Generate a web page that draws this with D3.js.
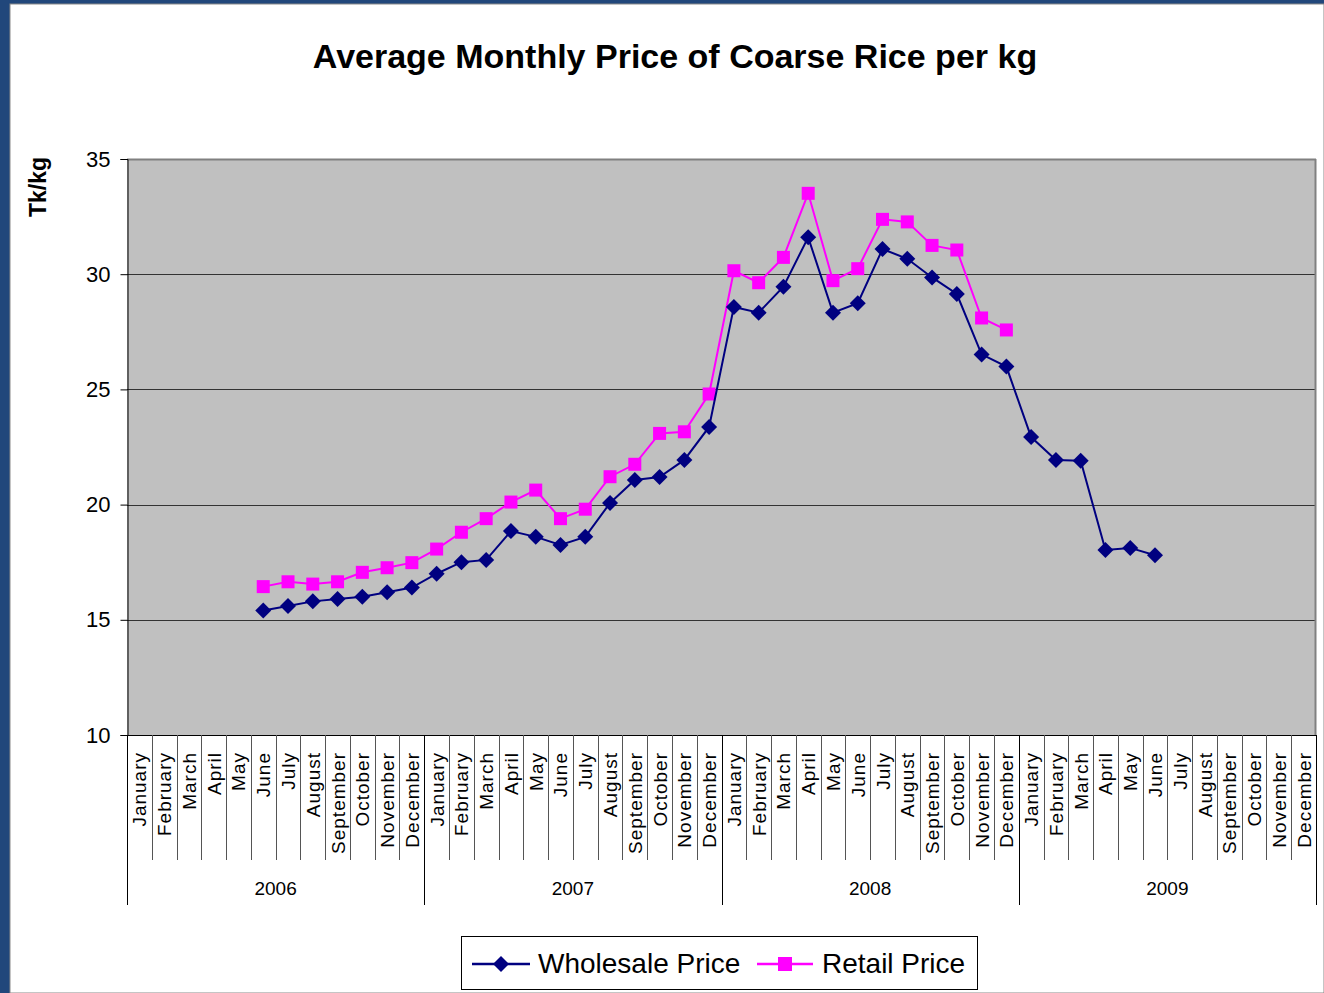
<!DOCTYPE html>
<html>
<head>
<meta charset="utf-8">
<title>Average Monthly Price of Coarse Rice per kg</title>
<script src="https://d3js.org/d3.v7.min.js"></script>
<style>
  body { margin: 0; background: #fff; }
  text { font-family: "Liberation Sans", Arial, sans-serif; }
</style>
</head>
<body>
<script>
// ---- data ----
var years = ["2006", "2007", "2008", "2009"];
var months = ["January", "February", "March", "April", "May", "June", "July",
              "August", "September", "October", "November", "December"];
// one value per month Jan 2006 .. Dec 2009, null where there is no value
var wholesale = [
  null, null, null, null, null, 15.4, 15.6, 15.8, 15.9, 16.0, 16.2, 16.4,
  17.0, 17.5, 17.6, 18.85, 18.6, 18.25, 18.6, 20.07, 21.07, 21.2, 21.94, 23.37,
  28.58, 28.33, 29.46, 31.6, 28.33, 28.74, 31.09, 30.67, 29.86, 29.14, 26.52, 25.99,
  22.93, 21.94, 21.9, 18.03, 18.12, 17.8, null, null, null, null, null, null
];
var retail = [
  null, null, null, null, null, 16.44, 16.65, 16.55, 16.65, 17.06, 17.26, 17.48,
  18.07, 18.8, 19.39, 20.11, 20.63, 19.39, 19.8, 21.21, 21.75, 23.09, 23.16, 24.8,
  30.15, 29.63, 30.73, 33.51, 29.72, 30.24, 32.38, 32.27, 31.25, 31.05, 28.1, 27.58,
  null, null, null, null, null, null, null, null, null, null, null, null
];
var yTicks = [10, 15, 20, 25, 30, 35];

var W = 1324, H = 993;
var pLeft = 127, pRight = 1316, pTop = 159, pBottom = 735;

var svg = d3.select("body").append("svg").attr("width", W).attr("height", H);

// frame
svg.append("rect").attr("x", 0).attr("y", 0).attr("width", W).attr("height", H).attr("fill", "#21477b");
svg.append("rect").attr("x", 10).attr("y", 4).attr("width", W - 10).attr("height", H - 4)
  .attr("fill", "#fff").attr("stroke", "#8a8a8a").attr("stroke-width", 1);

var cats = [];
years.forEach(function(yr) { months.forEach(function(m) { cats.push(yr + "-" + m); }); });

var x = d3.scaleBand().domain(cats).range([pLeft, pRight]);
var y = d3.scaleLinear().domain([10, 35]).range([pBottom, pTop]);

// plot area
svg.append("rect").attr("x", pLeft).attr("y", pTop).attr("width", pRight - pLeft).attr("height", pBottom - pTop)
  .attr("fill", "#c0c0c0");

svg.append("g").selectAll("line").data(yTicks.filter(function(d) { return d > 10; })).join("line")
  .attr("x1", pLeft).attr("x2", pRight)
  .attr("y1", function(d) { return Math.round(y(d)) + 0.5; })
  .attr("y2", function(d) { return Math.round(y(d)) + 0.5; })
  .attr("stroke", function(d) { return d === 35 ? "#808080" : "#333"; })
  .attr("stroke-width", function(d) { return d === 35 ? 2 : 1; });
svg.append("line").attr("x1", pRight - 0.5).attr("x2", pRight - 0.5).attr("y1", pTop).attr("y2", pBottom)
  .attr("stroke", "#808080").attr("stroke-width", 2);

// y axis
var yAxis = svg.append("g").attr("transform", "translate(" + (pLeft + 0.5) + ",0)")
  .call(d3.axisLeft(y).tickValues(yTicks).tickSize(7).tickPadding(10));
yAxis.select(".domain").attr("stroke", "#000");
yAxis.selectAll(".tick line").attr("stroke", "#000");
yAxis.selectAll("text").attr("font-size", 22).attr("fill", "#000")
  .style("font-family", "'Liberation Sans', Arial, sans-serif");

// x axis: category separators + month labels
var xg = svg.append("g");
xg.append("line").attr("x1", pLeft).attr("x2", pRight).attr("y1", pBottom + 0.5).attr("y2", pBottom + 0.5)
  .attr("stroke", "#000");
var bounds = d3.range(cats.length + 1);
xg.selectAll("line.sep").data(bounds).join("line").attr("class", "sep")
  .attr("x1", function(i) { return Math.round(pLeft + i * x.step()) + 0.5; })
  .attr("x2", function(i) { return Math.round(pLeft + i * x.step()) + 0.5; })
  .attr("y1", pBottom)
  .attr("y2", function(i) { return i % 12 === 0 ? 905 : 860; })
  .attr("stroke", function(i) { return i % 12 === 0 ? "#000" : "#555"; });

xg.selectAll("text.month").data(cats).join("text").attr("class", "month")
  .attr("transform", function(d) {
    return "translate(" + (x(d) + x.bandwidth() / 2 + 7) + ",752) rotate(-90)";
  })
  .attr("text-anchor", "end")
  .attr("font-size", 19)
  .attr("letter-spacing", 1)
  .text(function(d) { return d.split("-")[1]; });

xg.selectAll("text.year").data(years).join("text").attr("class", "year")
  .attr("x", function(d) { return (x(d + "-January") + x(d + "-December") + x.bandwidth()) / 2; })
  .attr("y", 895)
  .attr("text-anchor", "middle")
  .attr("font-size", 19)
  .text(function(d) { return d; });

// series
function seriesData(vals) {
  return vals.map(function(v, i) { return { c: cats[i], v: v }; });
}
var line = d3.line()
  .x(function(d) { return x(d.c) + x.bandwidth() / 2; })
  .y(function(d) { return y(d.v); });

var retailData = seriesData(retail).filter(function(d) { return d.v !== null; });
var wholeData = seriesData(wholesale).filter(function(d) { return d.v !== null; });

svg.append("path").datum(retailData).attr("d", line)
  .attr("fill", "none").attr("stroke", "#ff00ff").attr("stroke-width", 2);
svg.append("g").selectAll("rect").data(retailData).join("rect")
  .attr("x", function(d) { return x(d.c) + x.bandwidth() / 2 - 6.5; })
  .attr("y", function(d) { return y(d.v) - 6.5; })
  .attr("width", 13).attr("height", 13)
  .attr("fill", "#ff00ff");

var diamond = "M0,-8L8,0L0,8L-8,0Z";
svg.append("path").datum(wholeData).attr("d", line)
  .attr("fill", "none").attr("stroke", "#000080").attr("stroke-width", 2);
svg.append("g").selectAll("path").data(wholeData).join("path")
  .attr("transform", function(d) { return "translate(" + (x(d.c) + x.bandwidth() / 2) + "," + y(d.v) + ")"; })
  .attr("d", diamond)
  .attr("fill", "#000080");

// title
svg.append("text").attr("x", 675).attr("y", 68).attr("text-anchor", "middle")
  .attr("font-size", 34).attr("font-weight", "bold")
  .text("Average Monthly Price of Coarse Rice per kg");

svg.append("text").attr("transform", "translate(46,187) rotate(-90)").attr("text-anchor", "middle")
  .attr("font-size", 23).attr("font-weight", "bold").text("Tk/kg");

// legend
var lg = svg.append("g");
lg.append("rect").attr("x", 461.5).attr("y", 936.5).attr("width", 516).attr("height", 53)
  .attr("fill", "#fff").attr("stroke", "#000");
lg.append("line").attr("x1", 472).attr("x2", 530).attr("y1", 964).attr("y2", 964)
  .attr("stroke", "#000080").attr("stroke-width", 2.5);
lg.append("path").attr("transform", "translate(501,964)").attr("d", diamond).attr("fill", "#000080");
lg.append("text").attr("x", 538).attr("y", 973).attr("font-size", 28).text("Wholesale Price");
lg.append("line").attr("x1", 757).attr("x2", 813).attr("y1", 964).attr("y2", 964)
  .attr("stroke", "#ff00ff").attr("stroke-width", 2.5);
lg.append("rect").attr("x", 778).attr("y", 957).attr("width", 14).attr("height", 14).attr("fill", "#ff00ff");
lg.append("text").attr("x", 822).attr("y", 973).attr("font-size", 28).text("Retail Price");
</script>
</body>
</html>
